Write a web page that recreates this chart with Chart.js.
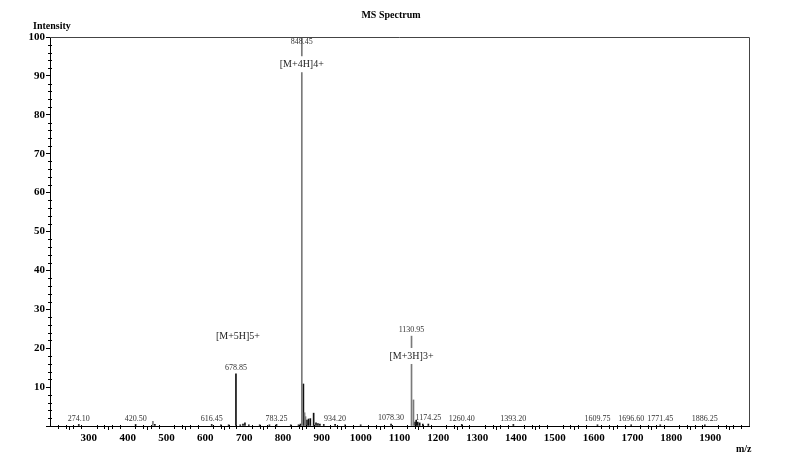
<!DOCTYPE html>
<html><head><meta charset="utf-8">
<script src="https://cdn.jsdelivr.net/npm/chart.js@4/dist/chart.umd.min.js"></script>
<style>html,body{margin:0;padding:0;background:#fff}#c{display:block}</style>
</head><body>
<canvas id="c" width="806" height="468"></canvas>
<script>
// ---- data ----
const darkMz  = [274.10, 420.50, 470.0, 616.45, 640.0, 660.0, 678.85, 690.0, 697.0, 702.0, 712.0, 740.0, 765.0, 783.25, 820.0, 840.0, 845.0, 852.5, 861.6, 865.7, 870.4, 878.9, 885.0, 890.0, 895.0, 905.0, 934.20, 960.0, 1000.0, 1078.30, 1140.0, 1143.0, 1147.0, 1152.0, 1160.0, 1174.25, 1260.40, 1393.20, 1609.75, 1696.60, 1771.45, 1886.25];
const darkInt = [0.4, 0.4, 0.4, 0.4, 0.3, 0.3, 13.4, 0.3, 0.5, 0.8, 0.3, 0.3, 0.3, 0.4, 0.3, 0.3, 0.5, 10.8, 1.5, 1.8, 1.9, 3.3, 0.8, 0.6, 0.5, 0.4, 0.4, 0.3, 0.3, 0.5, 1.0, 1.5, 1.0, 0.8, 0.5, 0.5, 0.4, 0.4, 0.3, 0.3, 0.3, 0.3];
const grayMz  = [465.0, 848.45, 855.6, 858.0, 1130.95, 1136.0];
const grayInt = [1.2, 100, 3.4, 2.4, 23.1, 6.7];
const labelledMz = [274.10, 420.50, 616.45, 678.85, 783.25, 848.45, 934.20, 1078.30, 1130.95, 1174.25, 1260.40, 1393.20, 1609.75, 1696.60, 1771.45, 1886.25];
const ionNames = ['[M+5H]5+', '[M+4H]4+', '[M+3H]3+'];
const ionMz    = [678.85, 848.45, 1130.95];
const xTickValues = [300, 400, 500, 600, 700, 800, 900, 1000, 1100, 1200, 1300, 1400, 1500, 1600, 1700, 1800, 1900];
const yTickValues = [10, 20, 30, 40, 50, 60, 70, 80, 90, 100];

// label anchor placement (in data units)
const ionLabelPos = [{x: 684, y: 23.1}, {x: 848.45, y: 93.0}, {x: 1130.95, y: 18.0}];

const toPts = (xs, ys) => xs.map((x, i) => ({x, y: ys[i]}));
const allMz = darkMz.concat(grayMz), allInt = darkInt.concat(grayInt);
const intensityAt = mz => { const i = allMz.indexOf(mz); return i >= 0 ? allInt[i] : 0; };

const SERIF = '"Liberation Serif", "DejaVu Serif", serif';

const decor = {
  id: 'decor',
  afterDraw(chart) {
    const {ctx, chartArea: a, scales: {x, y}} = chart;
    ctx.save();
    // frame top/right
    ctx.strokeStyle = '#444'; ctx.lineWidth = 1;
    ctx.beginPath();
    ctx.moveTo(a.left, a.top + 0.5); ctx.lineTo(a.right + 0.5, a.top + 0.5); ctx.lineTo(a.right + 0.5, a.bottom);
    ctx.stroke();
    // minor ticks
    ctx.strokeStyle = '#000';
    ctx.beginPath();
    for (let v = 2; v < 100; v += 2) {
      if (v % 10 === 0) continue;
      const py = Math.round(y.getPixelForValue(v)) + 0.5;
      ctx.moveTo(a.left - 2, py); ctx.lineTo(a.left + 2, py);
    }
    for (let v = 220; v < 2000; v += 20) {
      if (v % 100 === 0) continue;
      const px = Math.round(x.getPixelForValue(v)) + 0.5;
      ctx.moveTo(px, a.bottom - 1); ctx.lineTo(px, a.bottom + 3);
    }
    ctx.stroke();
    // peak value labels
    ctx.fillStyle = '#333';
    ctx.font = '8px ' + SERIF;
    ctx.textAlign = 'center'; ctx.textBaseline = 'bottom';
    labelledMz.forEach(mz => {
      const px = x.getPixelForValue(mz);
      let py = y.getPixelForValue(intensityAt(mz)) - 2;
      if (py < a.top + 9) py = a.top + 9;
      ctx.fillText(mz.toFixed(2), px, py);
    });
    // ion labels
    ctx.font = '10px ' + SERIF;
    ctx.textBaseline = 'middle';
    ionNames.forEach((t, i) => {
      const px = x.getPixelForValue(ionLabelPos[i].x);
      const py = y.getPixelForValue(ionLabelPos[i].y);
      const w = ctx.measureText(t).width;
      ctx.fillStyle = '#fff';
      ctx.fillRect(px - w / 2 - 1, py - 8, w + 2, 16);
      ctx.fillStyle = '#222';
      ctx.fillText(t, px, py);
    });
    // titles
    ctx.fillStyle = '#000';
    ctx.font = 'bold 10px ' + SERIF;
    ctx.textAlign = 'center'; ctx.textBaseline = 'middle';
    ctx.fillText('MS Spectrum', 391, 15);
    ctx.textAlign = 'left';
    ctx.fillText('Intensity', 33, 26);
    ctx.fillText('m/z', 736, 449);
    ctx.restore();
  }
};

new Chart(document.getElementById('c'), {
  type: 'bar',
  data: {
    datasets: [
      {label: 'gray', data: toPts(grayMz, grayInt), backgroundColor: '#7a7a7a', barThickness: 1, grouped: false},
      {label: 'dark', data: toPts(darkMz, darkInt), backgroundColor: '#111', barThickness: 1, grouped: false}
    ]
  },
  options: {
    responsive: false,
    animation: false,
    layout: {padding: {top: 37, right: 57, left: 0, bottom: 0}},
    plugins: {legend: {display: false}, tooltip: {enabled: false}},
    scales: {
      x: {
        type: 'linear', min: 200, max: 2000, offset: false,
        afterBuildTicks: s => { s.ticks = [200].concat(xTickValues, [2000]).map(v => ({value: v})); },
        afterFit: s => { s.height = 42; },
        ticks: {
          callback: v => xTickValues.includes(v) ? String(v) : '',
          font: {family: SERIF, size: 11, weight: 'bold'}, color: '#000', padding: 2, maxRotation: 0, autoSkip: false
        },
        grid: {display: true, drawOnChartArea: false, tickLength: 4, color: '#000'},
        border: {display: true, color: '#000'}
      },
      y: {
        min: 0, max: 100,
        afterBuildTicks: s => { s.ticks = [0].concat(yTickValues).map(v => ({value: v})); },
        afterFit: s => { s.width = 50; },
        ticks: {
          callback: v => yTickValues.includes(v) ? String(v) : '',
          font: {family: SERIF, size: 11, weight: 'bold'}, color: '#000', padding: 1, autoSkip: false
        },
        grid: {display: true, drawOnChartArea: false, tickLength: 4, color: '#000'},
        border: {display: true, color: '#000'}
      }
    }
  },
  plugins: [decor]
});
</script>
</body></html>
